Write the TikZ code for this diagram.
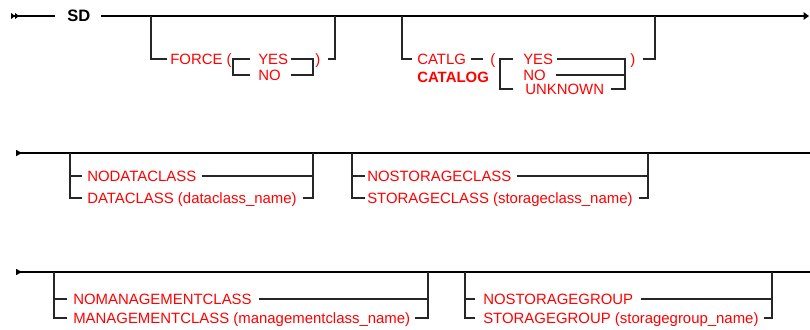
\documentclass[tikz,border=0pt]{standalone}
\usepackage{fontspec}
\setmainfont{Liberation Sans}
\usepackage{tikz}
\usetikzlibrary{arrows.meta,calc}

\begin{document}
\begin{tikzpicture}[
    x=0.75pt, y=-0.75pt,
    kw/.style={anchor=west, inner sep=0pt, text height=8pt, text depth=0pt,
      text=red, font=\fontsize{11.2}{13}\selectfont},
    kwbold/.style={kw, font=\fontsize{11.2}{13}\selectfont\bfseries},
    cmd/.style={anchor=west, inner sep=0pt, text height=8.9pt, text depth=0pt,
      font=\fontsize{12.4}{14}\selectfont\bfseries},
    rail/.style={draw=black!85, line width=1pt},
    trunk/.style={draw=black, line width=2.2pt},
    trunkthin/.style={draw=black, line width=1.5pt},
    begtip/.style={{Triangle[reversed,length=4.5pt,width=4.5pt]}-},
  ]
    \useasboundingbox (0,0) rectangle (810,329);

    % row 1
    \coordinate (r1in)  at (11,16);
    \coordinate (r1out) at (809,16);
    \node[cmd] (sd) at (67,16) {SD};
    \draw[trunkthin, {Triangle[reversed,length=3pt,width=4.5pt]Triangle[reversed,length=3pt,width=4.5pt]}-]
      (r1in) -- ($(sd.west)+(-12,0)$);
    \draw[trunk, -{Triangle[length=4pt,width=5.5pt]}] ($(sd.east)+(10,0)$) -- (r1out);

    \coordinate (fl)  at (151,16);
    \coordinate (fr)  at (335,16);
    \coordinate (fbl) at (233,59);
    \coordinate (fbr) at (313,59);
    \node[kw] (force)  at (170,59) {FORCE (};
    \node[kw] (fyes)   at (258,59) {YES};
    \node[kw] (fno)    at (258,75) {NO};
    \node[kw] (fclose) at (315,59) {)};
    \draw[rail] (fl) |- ($(force.west)+(-3,0)$);
    \draw[rail] ($(fyes.west)+(-8,0)$) -- (fbl) |- ($(fno.west)+(-8,0)$);
    \draw[rail] ($(fyes.east)+(3,0)$) -- (fbr) |- ($(fno.east)+(10,0)$);
    \draw[rail] ($(fclose.east)+(7,0)$) -| (fr);

    \coordinate (cl)  at (402,16);
    \coordinate (cr)  at (655,16);
    \coordinate (cbl) at (500,59);
    \coordinate (cbr) at (625,59);
    \node[kw]     (catlg)   at (417,59) {CATLG};
    \node[kwbold] (catalog) at (417,77) {CATALOG};
    \node[kw]     (copen)   at (490,59) {(};
    \node[kw]     (cyes)    at (523,59) {YES};
    \node[kw]     (cno)     at (523,75) {NO};
    \node[kw]     (cunk)    at (525,89) {UNKNOWN};
    \node[kw]     (cclose)  at (630,59) {)};
    \draw[rail] (cl) |- ($(catlg.west)+(-5,0)$);
    \draw[rail] ($(catlg.east)+(5,0)$) -- ($(copen.west)+(-7,0)$);
    \draw[rail] ($(cyes.west)+(-10,0)$) -- (cbl) |- ($(cunk.west)+(-12,0)$);
    \draw[rail] ($(cyes.east)+(4,0)$) -- (cbr) |- ($(cunk.east)+(7,0)$);
    \draw[rail] ($(cno.east)+(10,0)$) -- ($(cbr)+(0,16)$);
    \draw[rail] ($(cclose.east)+(7,0)$) -| (cr);

    % row 2
    \coordinate (r2in)  at (16,153);
    \coordinate (r2out) at (810,153);
    \draw[trunkthin, begtip] (r2in) -- (r2out);

    \coordinate (dl) at (70,153);
    \coordinate (dr) at (313,153);
    \node[kw] (nodc) at (87,176) {NODATACLASS};
    \node[kw] (dc)   at (87,198) {DATACLASS (dataclass\_name)};
    \draw[rail] (dl) |- ($(nodc.west)+(-5,0)$);
    \draw[rail] (dl) |- ($(dc.west)+(-5,0)$);
    \draw[rail] ($(nodc.east)+(5,0)$) -| (dr);
    \draw[rail] ($(dc.east)+(6,0)$) -| (dr);

    \coordinate (sl) at (352,153);
    \coordinate (sr) at (648,153);
    \node[kw] (nosc) at (367,176) {NOSTORAGECLASS};
    \node[kw] (sc)   at (367,198) {STORAGECLASS (storageclass\_name)};
    \draw[rail] (sl) |- ($(nosc.west)+(-2,0)$);
    \draw[rail] (sl) |- ($(sc.west)+(-2,0)$);
    \draw[rail] ($(nosc.east)+(5,0)$) -| (sr);
    \draw[rail] ($(sc.east)+(6,0)$) -| (sr);

    % row 3
    \coordinate (r3in)  at (16,272);
    \coordinate (r3out) at (810,272);
    \draw[trunk, begtip] (r3in) -- (r3out);

    \coordinate (ml) at (54,272);
    \coordinate (mr) at (428,272);
    \node[kw] (nomc) at (73,299) {NOMANAGEMENTCLASS};
    \node[kw] (mc)   at (73,318) {MANAGEMENTCLASS (managementclass\_name)};
    \draw[rail] (ml) |- ($(nomc.west)+(-6,0)$);
    \draw[rail] (ml) |- ($(mc.west)+(-6,0)$);
    \draw[rail] ($(nomc.east)+(7,0)$) -| (mr);
    \draw[rail] ($(mc.east)+(5,0)$) -| (mr);

    \coordinate (gl) at (465,272);
    \coordinate (gr) at (772,272);
    \node[kw] (nosg) at (483,299) {NOSTORAGEGROUP};
    \node[kw] (sg)   at (483,318) {STORAGEGROUP (storagegroup\_name)};
    \draw[rail] (gl) |- ($(nosg.west)+(-8,0)$);
    \draw[rail] (gl) |- ($(sg.west)+(-8,0)$);
    \draw[rail] ($(nosg.east)+(8,0)$) -| (gr);
    \draw[rail] ($(sg.east)+(5,0)$) -| (gr);
  \end{tikzpicture}
\end{document}
